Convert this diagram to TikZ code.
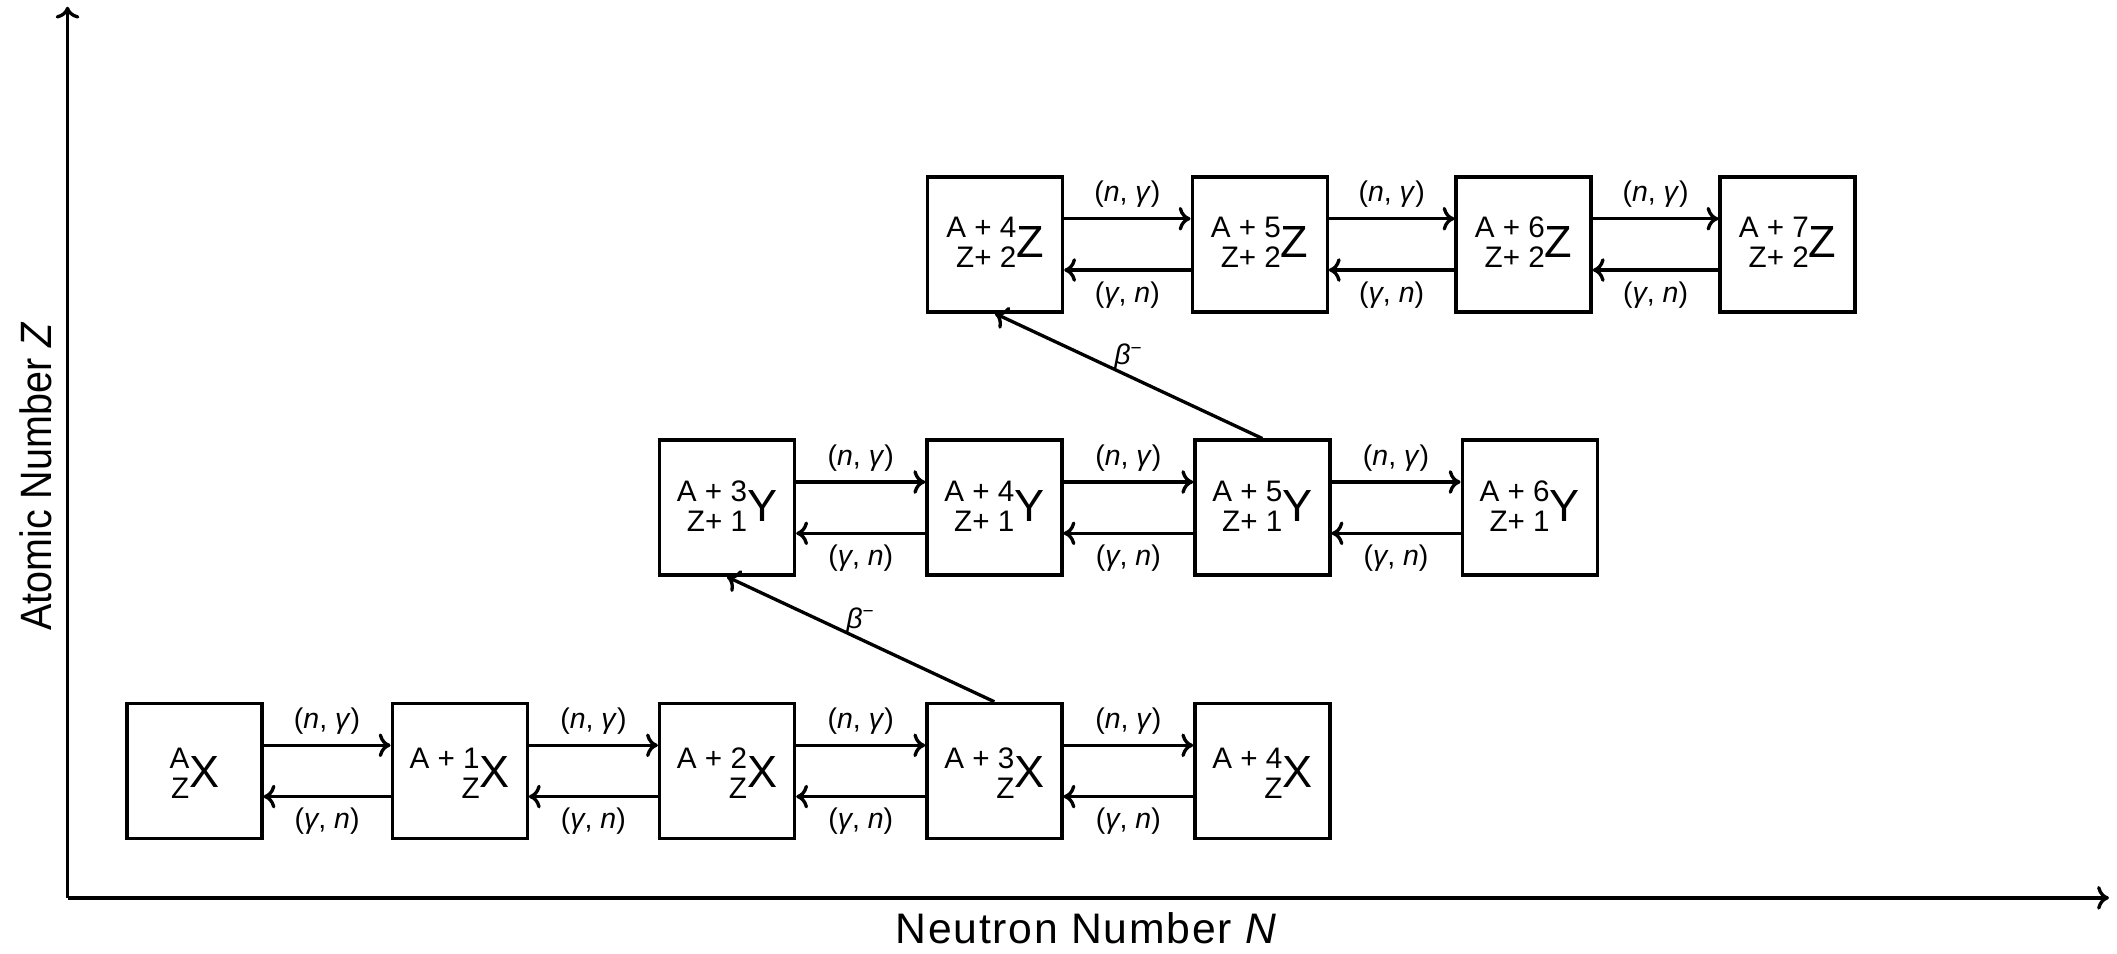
\documentclass[tikz,border=0pt]{standalone}
\usepackage{fontspec}
\setmainfont{Liberation Sans}
\usetikzlibrary{arrows.meta,calc}
\newcommand{\nucl}[3]{{\fontsize{12.5}{12.75}\selectfont\raisebox{-4.5pt}{\begin{tabular}[b]{@{}r@{}}#1\\#2\end{tabular}}}{\fontsize{19}{21}\selectfont #3}}
\begin{document}
\begin{tikzpicture}[x=0.02cm,y=-0.02cm,
  nucbox/.style={draw, line width=1.4pt, minimum width=2cm, minimum height=2cm, inner sep=0pt},
  nuctext/.style={anchor=base, inner sep=0pt},
  arr/.style={line width=1.4pt, -{Computer Modern Rightarrow[length=5pt,width=10pt]}},
  axisline/.style={line width=1.4pt, -{Computer Modern Rightarrow[length=5pt,width=10pt]}},
  lab/.style={inner sep=0pt, font=\fontsize{12}{14}\selectfont},
  betalab/.style={inner sep=1.5pt, font=\fontsize{12}{14}\selectfont}
]
\useasboundingbox (0,0) rectangle (1568,706);

% axes
\coordinate (O) at (50,665);
\coordinate (ytip) at (50,5);
\coordinate (xtip) at (1562,665);
\draw[axisline] (O) -- (ytip);
\draw[axisline] (O) -- (xtip);
\node[rotate=90, anchor=base, inner sep=0pt] (ylab) at (38,353) {\scalebox{0.9}[1]{\fontsize{18.5}{20}\selectfont Atomic Number \textit{Z}}};
\node[anchor=base, font=\fontsize{18}{20}\selectfont\addfontfeatures{LetterSpace=4}] (xlab) at (805,699) {Neutron Number \textit{N}};

% row X
\node[nucbox] (x1) at (144,571) {};
\node[nucbox] (x2) at (340.5,571) {};
\node[nucbox] (x3) at (538.5,571) {};
\node[nucbox] (x4) at (736.5,571) {};
\node[nucbox] (x5) at (935,571) {};
\node[nuctext] (tx1) at ([yshift=-0.25cm]x1.center) {\nucl{A}{Z}{X}};
\node[nuctext] (tx2) at ([yshift=-0.25cm]x2.center) {\nucl{A + 1}{Z}{X}};
\node[nuctext] (tx3) at ([yshift=-0.25cm]x3.center) {\nucl{A + 2}{Z}{X}};
\node[nuctext] (tx4) at ([yshift=-0.25cm]x4.center) {\nucl{A + 3}{Z}{X}};
\node[nuctext] (tx5) at ([yshift=-0.25cm]x5.center) {\nucl{A + 4}{Z}{X}};

% row Y
\node[nucbox] (y1) at (538.5,376) {};
\node[nucbox] (y2) at (736.5,376) {};
\node[nucbox] (y3) at (935,376) {};
\node[nucbox] (y4) at (1133,376) {};
\node[nuctext] (ty1) at ([yshift=-0.2cm]y1.center) {\nucl{A + 3}{Z+ 1}{Y}};
\node[nuctext] (ty2) at ([yshift=-0.2cm]y2.center) {\nucl{A + 4}{Z+ 1}{Y}};
\node[nuctext] (ty3) at ([yshift=-0.2cm]y3.center) {\nucl{A + 5}{Z+ 1}{Y}};
\node[nuctext] (ty4) at ([yshift=-0.2cm]y4.center) {\nucl{A + 6}{Z+ 1}{Y}};

% row Z
\node[nucbox] (z1) at (737,181) {};
\node[nucbox] (z2) at (933,181) {};
\node[nucbox] (z3) at (1128.5,181) {};
\node[nucbox] (z4) at (1324,181) {};
\node[nuctext] (tz1) at ([yshift=-0.19cm]z1.center) {\nucl{A + 4}{Z+ 2}{Z}};
\node[nuctext] (tz2) at ([yshift=-0.19cm]z2.center) {\nucl{A + 5}{Z+ 2}{Z}};
\node[nuctext] (tz3) at ([yshift=-0.19cm]z3.center) {\nucl{A + 6}{Z+ 2}{Z}};
\node[nuctext] (tz4) at ([yshift=-0.19cm]z4.center) {\nucl{A + 7}{Z+ 2}{Z}};

% reaction arrows
\foreach \a/\b in {x1/x2,x2/x3,x3/x4,x4/x5,y1/y2,y2/y3,y3/y4,z1/z2,z2/z3,z3/z4}{
  \draw[arr] ([yshift=0.38cm]\a.east) -- node[lab, midway, yshift=0.36cm] {(\textit{n}, \textit{γ})} ([yshift=0.38cm]\b.west);
  \draw[arr] ([yshift=-0.38cm]\b.west) -- node[lab, midway, yshift=-0.37cm] {(\textit{γ}, \textit{n})} ([yshift=-0.38cm]\a.east);
}

% beta decays
\draw[arr] (x4.north) -- node[betalab, pos=0.5, above] {\textit{β}\textsuperscript{−}} (y1.south);
\draw[arr] (y3.north) -- node[betalab, pos=0.5, above] {\textit{β}\textsuperscript{−}} (z1.south);
\end{tikzpicture}
\end{document}
